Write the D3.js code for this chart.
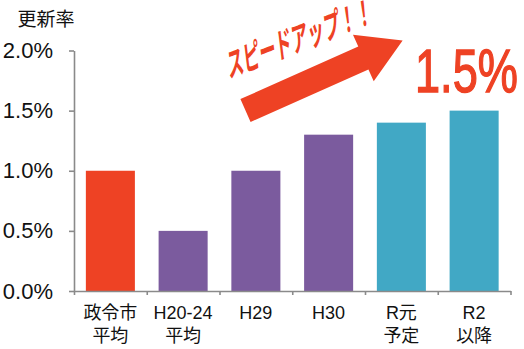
<!DOCTYPE html>
<html><head><meta charset="utf-8">
<script src="https://cdn.jsdelivr.net/npm/d3@7"></script>
<style>
html,body{margin:0;padding:0;background:#fff;}
svg{display:block;font-family:"Liberation Sans",Arial,sans-serif;}
</style></head>
<body>
<svg id="c" width="524" height="349"></svg>
<script>
const categories = ["政令市\n平均", "H20-24\n平均", "H29", "H30", "R元\n予定", "R2\n以降"];
const values = [1.0, 0.5, 1.0, 1.3, 1.4, 1.5];
const barColors = ["#EE4224", "#7B5B9E", "#7B5B9E", "#7B5B9E", "#41A8C5", "#41A8C5"];
const yTicks = [0, 0.5, 1.0, 1.5, 2.0];
const yTitle = "更新率";
const callout = "スピードアップ！！";
const bigLabel = "1.5%";

const svg = d3.select("#c");
const x0 = 74, x1 = 510.5, yTop = 50.5, yBot = 291;
const x = d3.scaleBand().domain(d3.range(categories.length)).range([x0, x1])
  .paddingInner(0.326).paddingOuter(0.163);
const xb = d3.scaleLinear().domain([0, categories.length]).range([x0, x1]);
const y = d3.scaleLinear().domain([0, 2]).range([yBot, yTop]);
const axisCol = "#8a8a8a";

// bars
svg.append("g").selectAll("rect").data(values).join("rect")
  .attr("x", (d, i) => x(i)).attr("width", x.bandwidth())
  .attr("y", d => y(d)).attr("height", d => yBot - y(d))
  .attr("fill", (d, i) => barColors[i]);

// y axis
const ya = svg.append("g").attr("transform", `translate(${x0},0)`)
  .call(d3.axisLeft(y).tickValues(yTicks).tickSize(5).tickSizeOuter(0).tickPadding(16)
    .tickFormat(d => d.toFixed(1) + "%"));
ya.selectAll("path,line").attr("stroke", axisCol).attr("stroke-width", 1.6);
ya.selectAll("text").attr("font-size", 22).attr("fill", "#111")
  .attr("font-family", "'Liberation Sans',Arial,sans-serif");

// x axis
const xa = svg.append("g").attr("transform", `translate(0,${yBot})`)
  .call(d3.axisBottom(xb).tickValues(d3.range(categories.length + 1)).tickSize(4).tickSizeOuter(0).tickFormat(""));
xa.selectAll("path,line").attr("stroke", axisCol).attr("stroke-width", 1.6);

// category labels
const lab = svg.append("g").selectAll("text").data(categories).join("text")
  .attr("text-anchor", "middle").attr("font-size", 18).attr("fill", "#111")
  .attr("font-family", "'Liberation Sans','Noto Sans CJK JP',sans-serif");
lab.each(function (d, i) {
  const t = d3.select(this);
  d.split("\n").forEach((line, k) => {
    t.append("tspan").attr("x", x(i) + x.bandwidth() / 2).attr("y", 318.5 + k * 23).text(line);
  });
});

// y title
svg.append("text").attr("x", 46).attr("y", 26).attr("text-anchor", "middle")
  .attr("font-size", 19).attr("fill", "#111")
  .attr("font-family", "'Noto Sans CJK JP',sans-serif").text(yTitle);

// arrow
const L = 172, hl = 43, bw = 12.5, hw = 25.5;
const arrowPts = [[0, -bw], [L - hl, -bw], [L - hl, -hw], [L, 0], [L - hl, hw], [L - hl, bw], [0, bw]];
svg.append("path")
  .attr("d", d3.line()(arrowPts) + "Z")
  .attr("fill", "#EE4224")
  .attr("transform", "translate(245.5,110.5) rotate(-24)");

// callout text
svg.append("text")
  .attr("transform", "translate(305,49) rotate(-21) skewX(-14) scale(0.52,1)")
  .attr("x", -8)
  .attr("text-anchor", "middle")
  .attr("font-size", 33).attr("font-weight", "bold").attr("fill", "#EE4224")
  .attr("font-family", "'Noto Sans CJK JP',sans-serif")
  .text(callout);

// big label
svg.append("text").attr("transform", "translate(415,92) scale(0.74,1)")
  .attr("font-size", 61).attr("fill", "#EE4224")
  .attr("stroke", "#EE4224").attr("stroke-width", 1.4)
  .attr("font-family", "'Liberation Sans',Arial,sans-serif")
  .text(bigLabel);
</script>
</body></html>
